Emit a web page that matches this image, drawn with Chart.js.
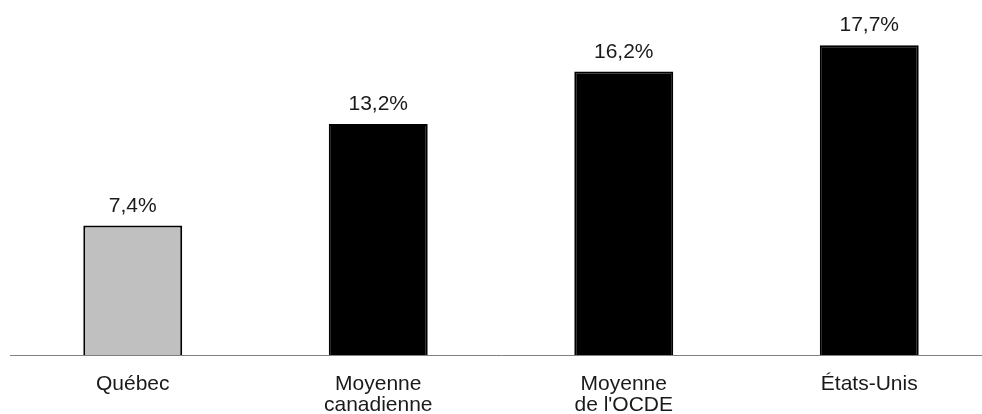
<!DOCTYPE html>
<html>
<head>
<meta charset="utf-8">
<script src="https://cdn.jsdelivr.net/npm/chart.js"></script>
<style>
  html, body { margin: 0; padding: 0; background: #fff; overflow: hidden; }
  #wrap { width: 1000px; height: 414px; position: relative; }
</style>
</head>
<body>
<div id="wrap"><canvas id="tauxChart"></canvas></div>
<script>
const categories = [["Québec"], ["Moyenne", "canadienne"], ["Moyenne", "de l'OCDE"], ["États-Unis"]];
const valeurs = [7.4, 13.2, 16.2, 17.7];
const couleurs = ["#c0c0c0", "#000000", "#000000", "#000000"];

// etiquettes au-dessus des barres
const etiquettes = {
  id: 'etiquettes',
  afterDatasetsDraw(chart) {
    const ctx = chart.ctx;
    const meta = chart.getDatasetMeta(0);
    ctx.save();
    ctx.font = '21px "Liberation Sans", Arial, sans-serif';
    ctx.fillStyle = '#1a1a1a';
    ctx.textAlign = 'center';
    ctx.textBaseline = 'alphabetic';
    meta.data.forEach(function(bar, i) {
      const txt = valeurs[i].toFixed(1).replace('.', ',') + '%';
      ctx.fillText(txt, bar.x, bar.y - 14);
    });
    ctx.restore();
  }
};

new Chart(document.getElementById('tauxChart'), {
  type: 'bar',
  data: {
    labels: categories,
    datasets: [{
      data: valeurs,
      backgroundColor: couleurs,
      borderColor: '#000000',
      borderWidth: 2,
      barPercentage: 0.403,
      categoryPercentage: 1
    }]
  },
  options: {
    responsive: true,
    maintainAspectRatio: false,
    animation: false,
    layout: { padding: { left: 10, right: 8, top: 5, bottom: 0 } },
    plugins: {
      legend: { display: false },
      tooltip: { enabled: false }
    },
    scales: {
      y: {
        display: false,
        min: 0,
        max: 20
      },
      x: {
        afterFit: function(scale) { scale.height = 59; },
        grid: { display: false, drawTicks: false },
        border: { display: true, color: '#808080', width: 1 },
        ticks: {
          color: '#1a1a1a',
          padding: 19,
          font: { size: 21, family: '"Liberation Sans", Arial, sans-serif', lineHeight: 1.0 }
        }
      }
    }
  },
  plugins: [etiquettes]
});
</script>
</body>
</html>
